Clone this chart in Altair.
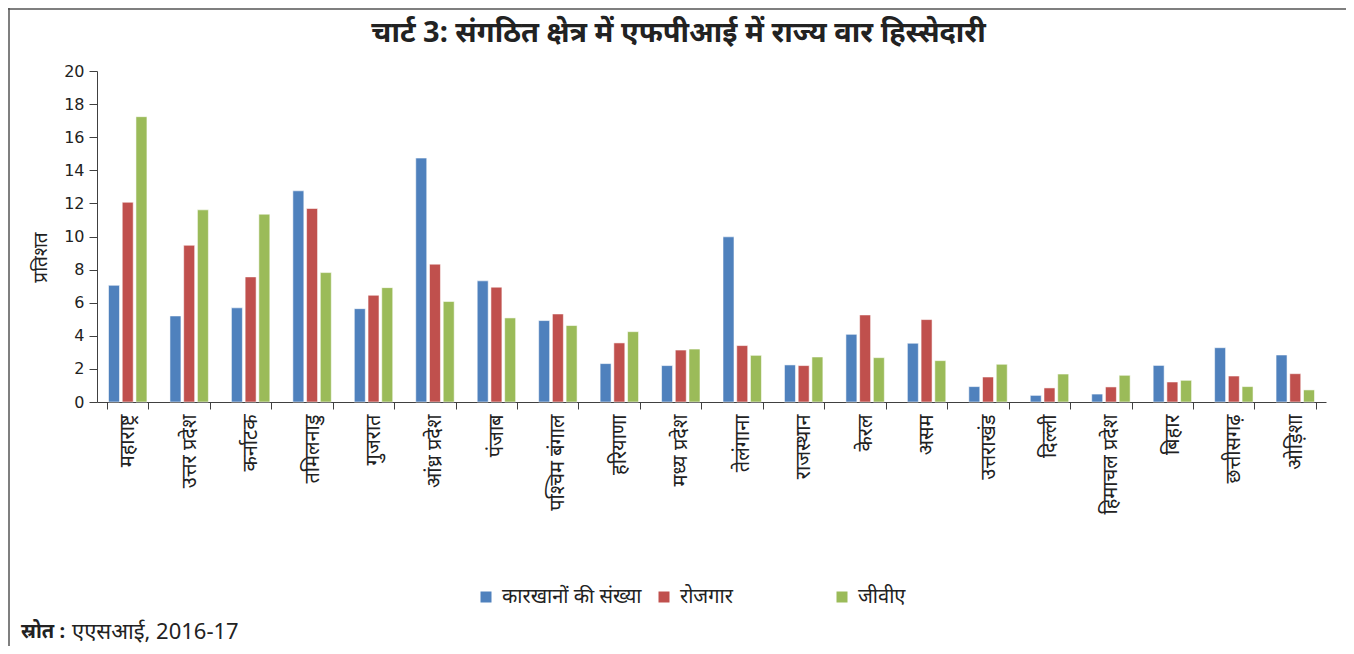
import altair as alt
import pandas as pd

states = ["महाराष्ट्र", "उत्तर प्रदेश", "कर्नाटक", "तमिलनाडु", "गुजरात", "आंध्र प्रदेश", "पंजाब",
          "पश्चिम बंगाल", "हरियाणा", "मध्य प्रदेश", "तेलंगाना", "राजस्थान", "केरल", "असम",
          "उत्तराखंड", "दिल्ली", "हिमाचल प्रदेश", "बिहार", "छत्तीसगढ़", "ओड़िशा"]
series = ["कारखानों की संख्या", "रोजगार", "जीवीए"]
factories = [7.05, 5.2, 5.69, 12.76, 5.64, 14.74, 7.32, 4.92, 2.32, 2.2, 9.98, 2.24, 4.09, 3.55,
             0.93, 0.4, 0.48, 2.21, 3.28, 2.84]
employment = [12.07, 9.47, 7.56, 11.69, 6.45, 8.33, 6.94, 5.32, 3.57, 3.14, 3.41, 2.2, 5.26, 4.98,
              1.51, 0.85, 0.91, 1.21, 1.57, 1.71]
gva = [17.24, 11.61, 11.35, 7.82, 6.91, 6.07, 5.08, 4.62, 4.25, 3.2, 2.82, 2.72, 2.68, 2.5,
       2.28, 1.69, 1.61, 1.31, 0.93, 0.73]
colors = ["#4F81BD", "#C0504D", "#9BBB59"]
y_ticks = list(range(0, 21, 2))

title_text = "चार्ट 3: संगठित क्षेत्र में एफपीआई में राज्य वार हिस्सेदारी"
y_title = "प्रतिशत"
source_bold = "स्रोत :"
source_rest = "एएसआई, 2016-17"

rows = []
for s, vals in zip(series, [factories, employment, gva]):
    for st, v in zip(states, vals):
        rows.append({"state": st, "series": s, "value": v})
df = pd.DataFrame(rows)

FONT = "Noto Sans, DejaVu Sans, sans-serif"
W, H = 1229, 331

bars = alt.Chart(df).mark_bar(stroke="white", strokeWidth=1, strokeOpacity=0.55).encode(
    x=alt.X("state:N", sort=states,
            scale=alt.Scale(paddingInner=0.33, paddingOuter=0.165),
            axis=alt.Axis(title=None, labelAngle=270, labelFontSize=20, labelFont=FONT,
                          labelColor="#222", labelPadding=5, tickBand="extent", tickSize=7,
                          tickColor="#404040", domainColor="#404040", labelLimit=200)),
    xOffset=alt.XOffset("series:N", sort=series,
                        scale=alt.Scale(paddingInner=0.2, paddingOuter=0.1)),
    y=alt.Y("value:Q", scale=alt.Scale(domain=[0, 20]),
            axis=alt.Axis(values=y_ticks, title=y_title, grid=False, labelFontSize=16,
                          labelFont="DejaVu Sans", labelColor="#222", tickSize=8,
                          labelPadding=5, tickColor="#404040", domainColor="#404040",
                          titleFont=FONT, titleFontSize=19, titleFontWeight="normal",
                          titleColor="#222", titleX=-47, titleY=186, titleAngle=270)),
    color=alt.Color("series:N", sort=series,
                    scale=alt.Scale(domain=series, range=colors),
                    legend=alt.Legend(title=None, orient="none", direction="horizontal",
                                      columns=3, gridAlign="all",
                                      legendX=379, legendY=516, symbolType="square",
                                      symbolSize=121, symbolStrokeWidth=0, labelFontSize=20,
                                      labelFont=FONT, labelColor="#222", labelOffset=6,
                                      columnPadding=12, padding=0, labelLimit=400)),
)

one = pd.DataFrame({"k": [0]})
frame_top = alt.Chart(one).mark_rule(color="#555", strokeWidth=1.5).encode(
    x=alt.value(-89), x2=alt.value(W + 20), y=alt.value(-62))
frame_left = alt.Chart(one).mark_rule(color="#555", strokeWidth=1.5).encode(
    x=alt.value(-88), y=alt.value(-63), y2=alt.value(H + 244))

title = alt.Chart(one).mark_text(align="center", baseline="middle", fontSize=29,
                                 fontWeight="bold", font=FONT, color="#222").encode(
    x=alt.value(W / 2 - 33), y=alt.value(-38), text=alt.value(title_text))

src1 = alt.Chart(one).mark_text(align="left", baseline="middle", fontSize=20, fontWeight="bold",
                                font=FONT, color="#222").encode(
    x=alt.value(-76), y=alt.value(561), text=alt.value(source_bold))
src2 = alt.Chart(one).mark_text(align="left", baseline="middle", fontSize=22,
                                font=FONT, color="#222").encode(
    x=alt.value(-25), y=alt.value(561), text=alt.value(source_rest))

chart = alt.layer(bars, frame_top, frame_left, title, src1, src2).properties(
    width=W, height=H,
    autosize=alt.AutoSizeParams(type="none"),
    padding={"left": 89, "top": 63, "right": 20, "bottom": 244},
).configure_view(stroke=None)

chart.save("out.html", embed_options={"renderer": "svg", "actions": False})
